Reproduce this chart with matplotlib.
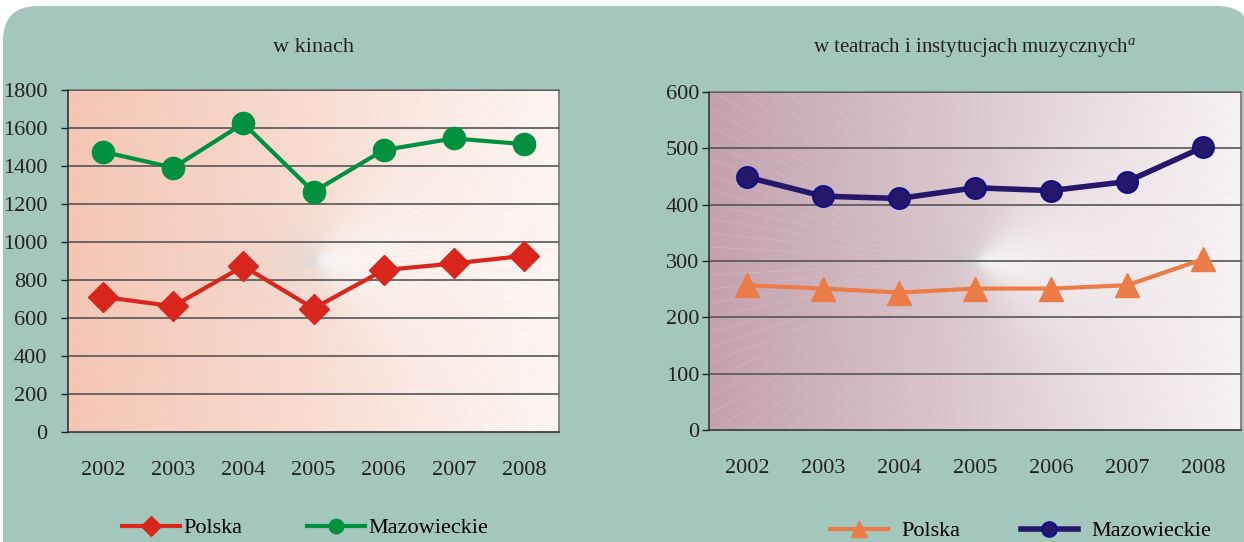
import numpy as np
import matplotlib
matplotlib.use("Agg")
import matplotlib.pyplot as plt
from matplotlib.patches import FancyBboxPatch
from matplotlib.colors import to_rgb

# data
years = ["2002", "2003", "2004", "2005", "2006", "2007", "2008"]
kino_polska = [711, 662, 873, 650, 852, 887, 927]
kino_mazow = [1475, 1391, 1624, 1264, 1484, 1545, 1515]
teatr_polska = [257, 251, 244, 251, 251, 257, 303]
teatr_mazow = [449, 415, 411, 430, 425, 441, 502]

plt.rcParams['font.family'] = ['Liberation Serif', 'DejaVu Serif']
plt.rcParams['mathtext.fontset'] = 'custom'
plt.rcParams['mathtext.it'] = 'Liberation Serif:italic'
plt.rcParams['mathtext.rm'] = 'Liberation Serif'

FS = 16
W, H = 1244, 542
fig = plt.figure(figsize=(W / 100, H / 100), dpi=100)
fig.patch.set_facecolor("white")

# rounded teal panel
top = 1 - 6 / H
panel = FancyBboxPatch((3 / W, -0.5), (1252 - 3) / W, top + 0.5,
                       boxstyle="round,pad=0,rounding_size=0.028",
                       transform=fig.transFigure, facecolor="#a4c7bd", edgecolor="none",
                       mutation_aspect=W / H, zorder=-5)
fig.patches.append(panel)


def background(ax, c_left, c_right, ymax):
    # horizontal gradient with a bright burst right of centre
    nx, ny = 400, 200
    xs = np.linspace(0, 1, nx)
    ys = np.linspace(0, 1, ny)
    X, Y = np.meshgrid(xs, ys)
    cl = np.array(to_rgb(c_left))
    cr = np.array(to_rgb(c_right))
    t = X[..., None]
    img = cl * (1 - t) + cr * t
    # glow right of the centre
    dx = (X - 0.5) * 1.4
    dy = (Y - 0.5)
    r = np.sqrt(dx ** 2 + dy ** 2)
    ang = np.arctan2(dy, dx)
    glow = np.clip(np.cos(ang), 0, 1) ** 2 * np.exp(-r / 0.35)
    img = img * (1 - glow[..., None]) + glow[..., None]
    # slight darkening left of the centre
    dark = np.clip(-np.cos(ang), 0, 1) ** 2 * np.exp(-r / 0.15) * 0.12
    img = img * (1 - dark[..., None]) + np.array([0.6, 0.6, 0.6]) * dark[..., None]
    ax.imshow(img, extent=[0, 7, 0, ymax], aspect="auto", origin="lower", zorder=0)
    # faint sunburst rays
    bb = ax.get_position()
    aw, ah = bb.width * W, bb.height * H
    for a in np.linspace(0, 2 * np.pi, 120, endpoint=False):
        ex = 0.5 + np.cos(a) * 1000 / aw
        ey = 0.5 + np.sin(a) * 1000 / ah
        ax.plot([0.5, ex], [0.5, ey], transform=ax.transAxes, color="#dcdfdf",
                lw=0.5, alpha=0.3, zorder=0.5)


def style(ax, ymax, step, ypad):
    ax.set_xlim(0, 7)
    ax.set_ylim(0, ymax)
    ax.set_yticks(np.arange(0, ymax + 1, step))
    ax.set_xticks(np.arange(7) + 0.5)
    ax.set_xticklabels(years)
    ax.tick_params(axis="x", length=0, pad=21, labelsize=FS, labelcolor="#222222")
    ax.tick_params(axis="y", length=5, width=1, pad=ypad, labelsize=FS, colors="#222222")
    ax.grid(axis="y", color="#555555", lw=1.2, zorder=1)
    ax.set_axisbelow(False)
    for s in ["left", "bottom"]:
        ax.spines[s].set_color("#333333")
        ax.spines[s].set_linewidth(1.2)
    for s in ["top", "right"]:
        ax.spines[s].set_color("#777777")
        ax.spines[s].set_linewidth(1.2)


x = np.arange(7) + 0.5

# left chart: w kinach
ax1 = fig.add_axes([68 / W, 1 - 432 / H, 491 / W, 342 / H])
background(ax1, "#f5c5b3", "#fdf4f1", 1800)
style(ax1, 1800, 200, 10)
ax1.plot(x, kino_polska, color="#d9261c", lw=3, marker="D", ms=15, zorder=3, label="Polska")
ax1.plot(x, kino_mazow, color="#00913f", lw=3, marker="o", ms=16, zorder=3, label="Mazowieckie")
ax1.set_title("w kinach", fontsize=FS, pad=27, color="#222222")
ax1.legend(loc="center", bbox_to_anchor=(305 / W, 1 - 528 / H), bbox_transform=fig.transFigure,
           ncol=2, frameon=False, fontsize=FS, handlelength=2.6, columnspacing=2.9,
           handletextpad=0.15, markerscale=0.65)

# right chart: w teatrach i instytucjach muzycznych
ax2 = fig.add_axes([709 / W, 1 - 430 / H, 532 / W, 338 / H])
background(ax2, "#c3a1ae", "#f6f1f2", 600)
style(ax2, 600, 100, 2)
ax2.plot(x, teatr_polska, color="#ec7c45", lw=3, marker="^", ms=17, zorder=3, label="Polska")
ax2.plot(x, teatr_mazow, color="#25176a", lw=4, marker="o", ms=15, mec="#0f0f8a", mew=1.5,
         zorder=3, label="Mazowieckie")
ax2.set_title("w teatrach i instytucjach muzycznych$^{\\mathit{a}}$", fontsize=15, pad=29,
              color="#222222")
ax2.legend(loc="center", bbox_to_anchor=(1021 / W, 1 - 531 / H), bbox_transform=fig.transFigure,
           ncol=2, frameon=False, fontsize=FS, handlelength=2.6, columnspacing=2.7,
           handletextpad=0.6, markerscale=0.7)

fig.savefig("out.png", dpi=100, facecolor=fig.get_facecolor())
